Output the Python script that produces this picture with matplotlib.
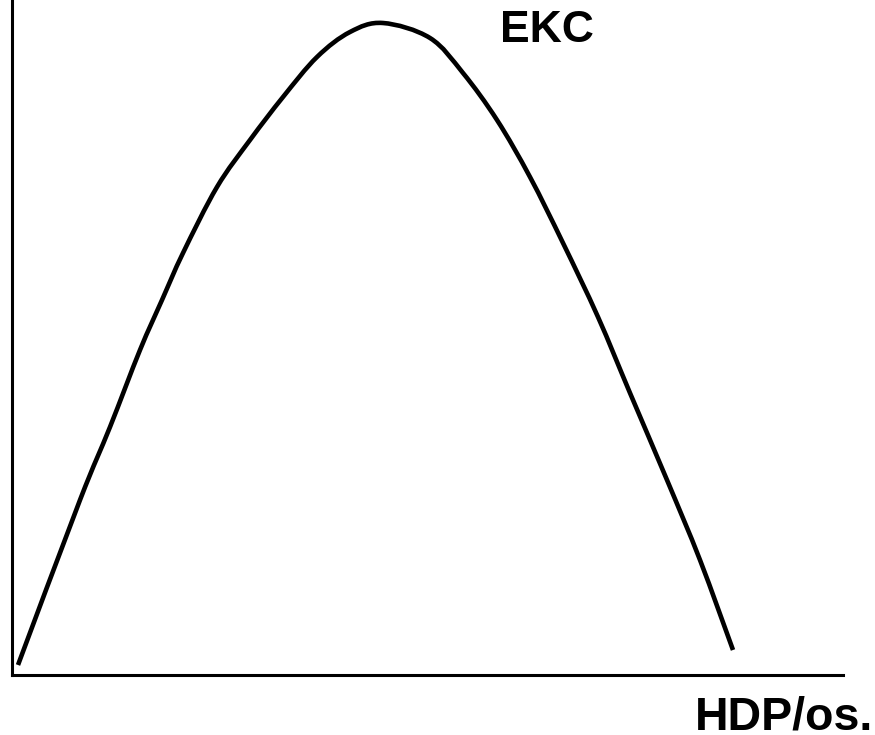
import matplotlib
matplotlib.use("Agg")
import matplotlib.pyplot as plt
from matplotlib.path import Path
from matplotlib.patches import PathPatch

# EKC curve (x = HDP/os., y = pollution), arbitrary units
hdp = [6, 68, 98, 128, 150, 171, 205, 238, 271, 305, 338, 371, 418, 451, 485,
       518, 551, 586, 618, 655, 688, 721]
pollution = [10, 175, 248, 325, 375, 422, 488, 535, 578, 618, 643, 652, 637,
             602, 555, 498, 432, 358, 282, 195, 115, 25]

curve_label = "EKC"
x_label = "HDP/os."


def smooth_path(xs, ys):
    # cubic bezier segments through the points (Catmull-Rom tangents)
    pts = list(zip(xs, ys))
    verts = [pts[0]]
    codes = [Path.MOVETO]
    n = len(pts)
    for i in range(n - 1):
        p0 = pts[max(i - 1, 0)]
        p1 = pts[i]
        p2 = pts[i + 1]
        p3 = pts[min(i + 2, n - 1)]
        c1 = (p1[0] + (p2[0] - p0[0]) / 6, p1[1] + (p2[1] - p0[1]) / 6)
        c2 = (p2[0] - (p3[0] - p1[0]) / 6, p2[1] - (p3[1] - p1[1]) / 6)
        verts += [c1, c2, p2]
        codes += [Path.CURVE4] * 3
    return Path(verts, codes)


W, H = 875, 735
fig = plt.figure(figsize=(W / 100, H / 100), dpi=100)
ax = fig.add_axes([12 / W, 60 / H, 831 / W, 675 / H])

ax.add_patch(PathPatch(smooth_path(hdp, pollution), facecolor="none",
                       edgecolor="black", lw=3.3, capstyle="butt"))
ax.set_xlim(0, 831)
ax.set_ylim(0, 675)

for side in ("top", "right"):
    ax.spines[side].set_visible(False)
for side in ("left", "bottom"):
    ax.spines[side].set_linewidth(2.2)
    ax.spines[side].set_color("black")
ax.set_xticks([])
ax.set_yticks([])

font = dict(family=["Liberation Sans", "DejaVu Sans"], weight="bold", color="black")
fig.text(500 / W, 1 - 42 / H, curve_label, fontsize=32, va="baseline", ha="left", **font)
fig.text(695 / W, 1 - 730 / H, x_label, fontsize=33.5, va="baseline", ha="left", **font)

fig.savefig("out.png", dpi=100)
